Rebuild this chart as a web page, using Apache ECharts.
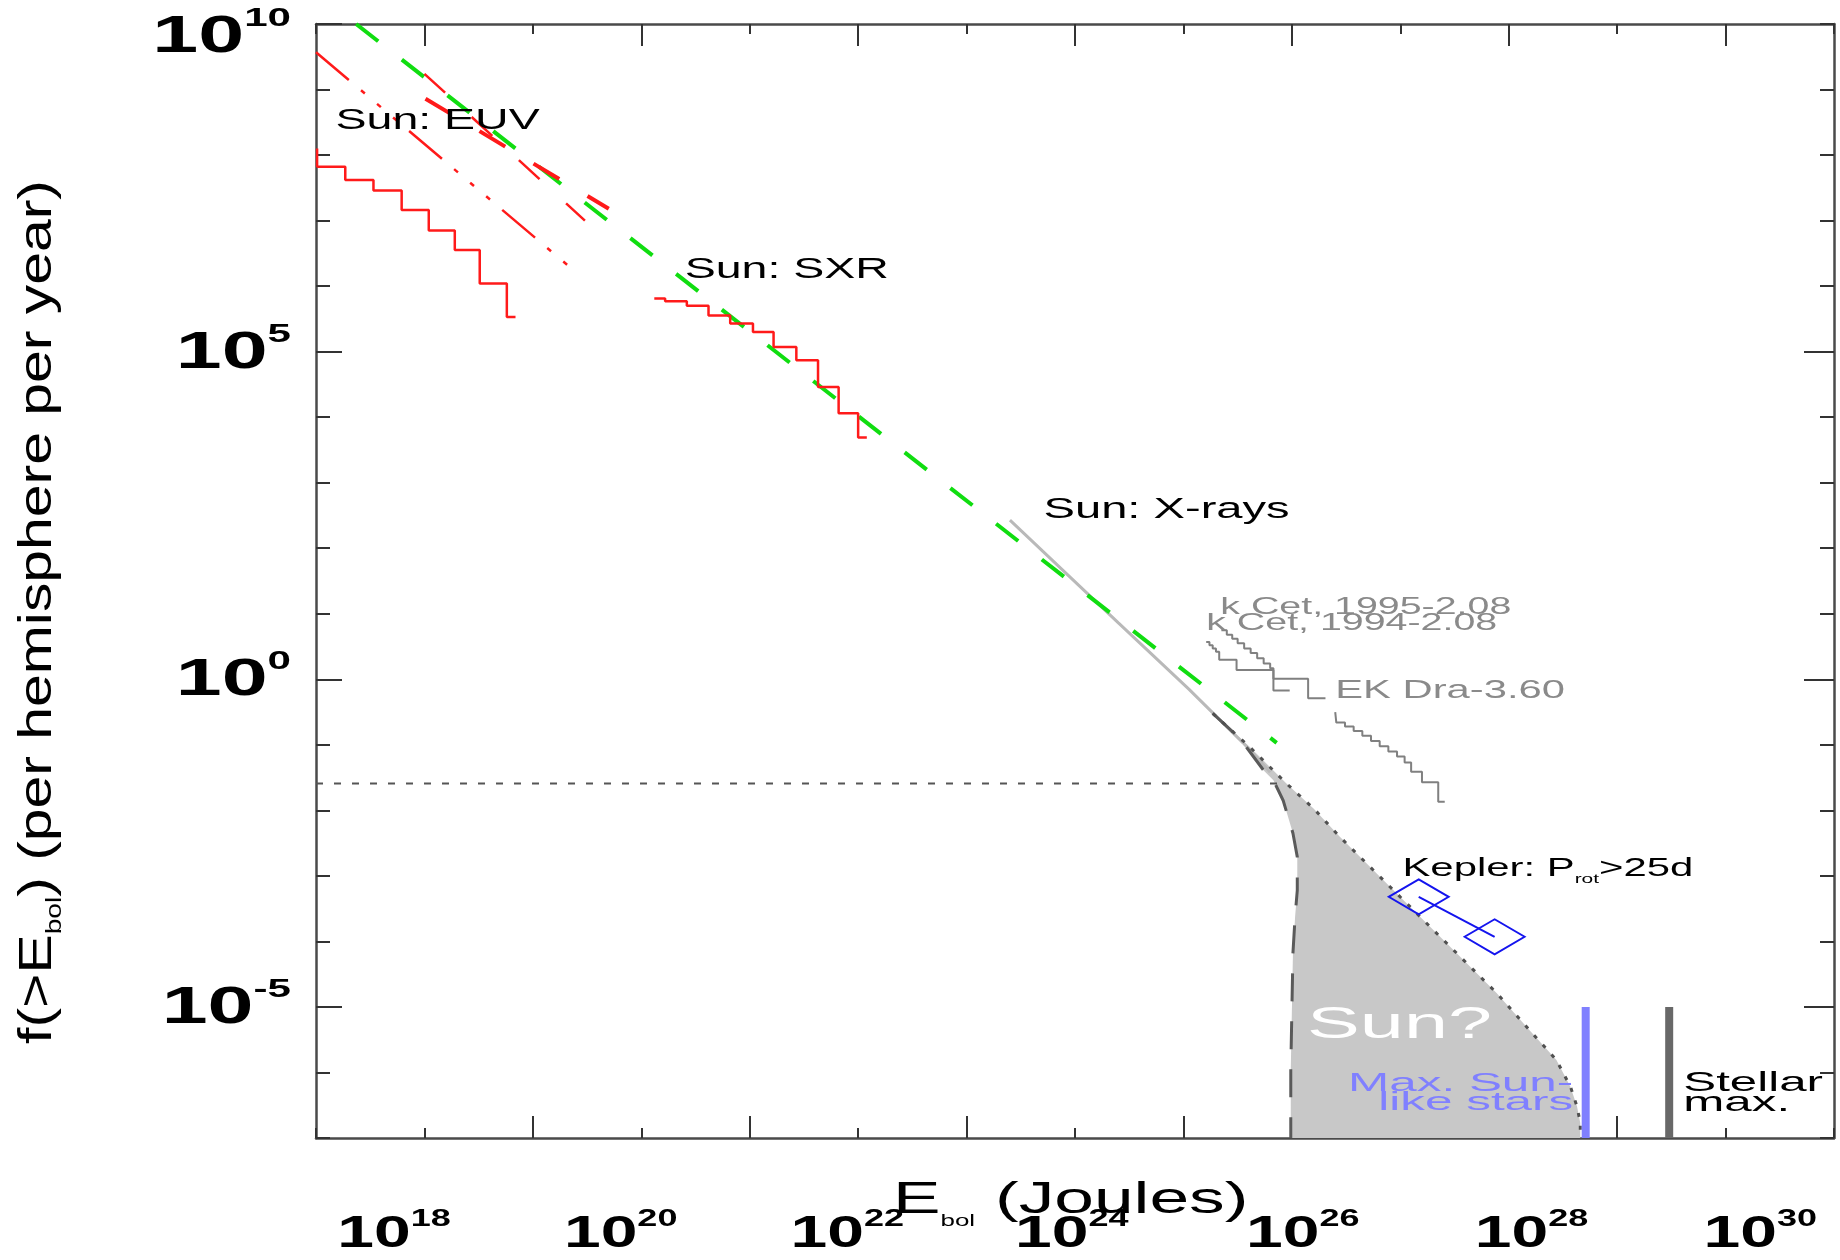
<!DOCTYPE html>
<html>
<head>
<meta charset="utf-8">
<title>Flare frequency vs bolometric energy</title>
<script src="https://cdn.jsdelivr.net/npm/echarts@6/dist/echarts.min.js"></script>
<style>
  html, body { margin: 0; padding: 0; background: #fff; }
  #chart { width: 1840px; height: 1260px; }
</style>
</head>
<body>
<div id="chart"></div>
<script>
// every value is a log10: E_bol in Joules, f(>E_bol) per hemisphere per year
const xTicks = [18, 20, 22, 24, 26, 28, 30];
const yTicks = [10, 5, 0, -5];

// Sun: EUV (cumulative histogram + power-law fits)
const euvStepE = [17.01, 17.01, 17.27, 17.53, 17.79, 18.04, 18.28, 18.51, 18.76, 18.84];
const euvStepF = [8.10, 7.82, 7.62, 7.46, 7.16, 6.85, 6.55, 6.04, 5.53, 5.53];
const euvFitAE = [17.0, 19.32];
const euvFitAF = [9.57, 6.32];
const euvFitBE = [18.0, 19.48];
const euvFitBF = [9.24, 7.0];
const euvFitCE = [18.01, 19.70];
const euvFitCF = [8.86, 7.18];

// Sun: SXR
const sxrStepE = [20.12, 20.22, 20.42, 20.62, 20.82, 21.03, 21.22, 21.43, 21.63, 21.82, 22.0, 22.08];
const sxrStepF = [5.81, 5.77, 5.70, 5.55, 5.43, 5.30, 5.07, 4.87, 4.46, 4.06, 3.69, 3.69];

// overall power law (green)
const fitE = [17.37, 25.86];
const fitF = [10.0, -0.97];

// Sun: X-rays
const xrayE = [23.40, 24.40, 25.05, 25.55, 25.80];
const xrayF = [2.43, 0.86, -0.15, -0.97, -1.42];

// stellar flare samples
const kCet95E = [25.35, 25.40, 25.45, 25.50, 25.56, 25.62, 25.68, 25.74, 25.80, 25.83, 26.15, 26.31];
const kCet95F = [0.75, 0.68, 0.62, 0.55, 0.47, 0.40, 0.32, 0.24, 0.17, 0.01, -0.29, -0.29];
const kCet94E = [25.21, 25.24, 25.27, 25.30, 25.33, 25.49, 25.83, 25.98];
const kCet94F = [0.57, 0.52, 0.47, 0.42, 0.30, 0.14, -0.17, -0.17];
const ekDraE = [26.40, 26.41, 26.49, 26.57, 26.65, 26.73, 26.81, 26.89, 26.97, 27.04, 27.10, 27.20, 27.35, 27.41];
const ekDraF = [-0.50, -0.66, -0.72, -0.79, -0.86, -0.94, -1.02, -1.10, -1.18, -1.27, -1.41, -1.57, -1.87, -1.87];

// Kepler: P_rot > 25 d
const keplerE = [27.17, 27.87];
const keplerF = [-3.32, -3.93];

// "Sun?" envelope
const sunLeftE = [25.27, 25.52, 25.74, 25.83, 25.92, 26.01, 26.05, 26.05, 26.03, 26.01, 25.99, 25.99];
const sunLeftF = [-0.52, -0.90, -1.39, -1.54, -1.85, -2.35, -2.71, -3.22, -3.62, -4.18, -5.96, -7.0];
const sunRightE = [25.27, 25.61, 25.95, 26.20, 26.44, 26.78, 27.15, 27.52, 27.89, 28.19, 28.44, 28.57, 28.63, 28.66, 28.66];
const sunRightF = [-0.52, -1.03, -1.59, -1.97, -2.40, -2.96, -3.57, -4.18, -4.79, -5.35, -5.81, -6.22, -6.52, -6.77, -7.0];
const sunLimitE = [17.0, 25.94];
const sunLimitF = [-1.59, -1.59];

// maximum energies
const sunLikeMaxE = [28.71, 28.71];
const stellarMaxE = [29.48, 29.48];
const maxBarF = [-5, -7];

const FONT = '"Liberation Sans", Arial, Helvetica, sans-serif';
const pairs = (xs, ys) => xs.map((x, i) => [x, ys[i]]);

function line(xs, ys, color, width, type, extra) {
  return Object.assign({
    type: "line",
    data: pairs(xs, ys),
    showSymbol: false,
    symbol: "none",
    silent: true,
    animation: false,
    z: 3,
    lineStyle: { color: color, width: width, type: type }
  }, extra || {});
}

function frameAxis(pos, min, max, len, custom, showLine) {
  const tick = { show: true, inside: true, length: len, lineStyle: { color: "#333", width: 2 } };
  if (custom) tick.customValues = custom;
  return {
    type: "value",
    position: pos,
    min: min,
    max: max,
    interval: 1,
    axisLine: { show: showLine, onZero: false, lineStyle: { color: "#4a4a4a", width: 2.5 } },
    axisTick: tick,
    axisLabel: { show: false },
    splitLine: { show: false }
  };
}

const option = {
  backgroundColor: "#fff",
  animation: false,
  grid: { left: 316, right: 6, top: 24, bottom: 122 },
  xAxis: [
    frameAxis("bottom", 17, 31, 10, null, true),
    frameAxis("bottom", 17, 31, 22, [19, 21, 23, 25, 27, 29], false),
    frameAxis("top", 17, 31, 10, null, true),
    frameAxis("top", 17, 31, 22, [18, 20, 22, 24, 26, 28, 30], false)
  ],
  yAxis: [
    frameAxis("left", -7, 10, 14, null, true),
    frameAxis("left", -7, 10, 26, [-5, 0, 5, 10], false),
    frameAxis("right", -7, 10, 14, null, true),
    frameAxis("right", -7, 10, 30, [-5, 0, 5], false)
  ],
  series: [
    {
      // shaded "Sun?" region
      type: "custom",
      silent: true,
      z: 1,
      data: [[sunLeftE[0], sunLeftF[0]]],
      renderItem: function (params, api) {
        const poly = pairs(sunLeftE, sunLeftF).concat(pairs(sunRightE, sunRightF).reverse());
        return {
          type: "polygon",
          shape: { points: poly.map(p => api.coord(p)) },
          style: { fill: "#c8c8c8" }
        };
      }
    },
    line(sunLimitE, sunLimitF, "#555", 2, [7, 11]),
    line(xrayE, xrayF, "#b9b9b9", 3, "solid"),
    line(sunLeftE, sunLeftF, "#5a5a5a", 3, [28, 20]),
    line(sunRightE, sunRightF, "#505050", 3, [4, 9]),
    line(fitE, fitF, "#10dd10", 4, [28, 30]),
    line(euvStepE, euvStepF, "#ff1a1a", 2.5, "solid", { step: "end" }),
    line(euvFitAE, euvFitAF, "#ff1a1a", 2.5, [43, 16, 5, 16, 5, 16, 5, 16]),
    line(euvFitBE, euvFitBF, "#ff1a1a", 2.5, [28, 36]),
    line(euvFitCE, euvFitCF, "#ff1a1a", 4, [30, 33]),
    line(sxrStepE, sxrStepF, "#ff1a1a", 2.5, "solid", { step: "end" }),
    line(kCet95E, kCet95F, "#808080", 2, "solid", { step: "end" }),
    line(kCet94E, kCet94F, "#808080", 2, "solid", { step: "end" }),
    line(ekDraE, ekDraF, "#808080", 2, "solid", { step: "end" }),
    line(keplerE, keplerF, "#1414ee", 2, "solid", {
      showSymbol: true,
      symbol: "diamond",
      symbolSize: [60, 35],
      itemStyle: { color: "rgba(0,0,0,0)", borderColor: "#1414ee", borderWidth: 2 }
    }),
    line(sunLikeMaxE, maxBarF, "#8080ff", 8, "solid"),
    line(stellarMaxE, maxBarF, "#686868", 8, "solid")
  ]
};

const chart = echarts.init(document.getElementById("chart"));
chart.setOption(option);

// ---- texts (stretched wide like the original figure) ----
const px = (x, y) => chart.convertToPixel({ xAxisIndex: 0, yAxisIndex: 0 }, [x, y]);

function tok(size, color, weight, lh, va) {
  return { fontSize: size, fontFamily: FONT, fontWeight: weight || "normal", fill: color,
    lineHeight: lh || size, verticalAlign: va || "bottom" };
}

function text(x, y, content, o) {
  return {
    type: "text",
    x: x,
    y: y,
    z: 100,
    silent: true,
    scaleX: o.scale || 1,
    rotation: o.rotation || 0,
    style: {
      text: content,
      fill: o.color || "#000",
      fontFamily: FONT,
      fontSize: o.size,
      fontWeight: o.weight || "normal",
      align: o.align || "left",
      verticalAlign: "middle",
      rich: o.rich
    }
  };
}

const g = [];
const leftPx = px(17, 0)[0];
const bottomPx = px(17, -7)[1];

// y tick labels 10^n
yTicks.forEach(v => {
  const y = Math.max(px(17, v)[1] + 2, 38);
  g.push(text(leftPx - 25, y, "{b|10}{s|" + v + "}", {
    align: "right", scale: 1.62,
    rich: { b: tok(51, "#000", "bold", 64, "middle"), s: tok(26, "#000", "bold", 26, "top") }
  }));
});

// x tick labels, printed a little off their ticks in the original
const xLabelAt = [17.72, 19.81, 21.90, 23.97, 26.10, 28.21, 30.32];
xTicks.forEach((v, i) => {
  g.push(text(px(xLabelAt[i], 0)[0], bottomPx + 97, "{b|10}{s|" + v + "}", {
    align: "center", scale: 1.5,
    rich: { b: tok(44, "#000", "bold", 56, "middle"), s: tok(24, "#000", "bold", 24, "top") }
  }));
});

// axis titles
g.push(text(893, bottomPx + 63, "{a|E}{s|bol}{a| (Joules)}", {
  scale: 1.62,
  rich: { a: tok(44, "#000", "normal", 58, "middle"), s: tok(16, "#000", "normal", 16, "bottom") }
}));
g.push(text(38, 612, "{a|f(>E}{s|bol}{a|) (per hemisphere per year)}", {
  align: "center", scale: 1.28, rotation: Math.PI / 2,
  rich: { a: tok(46, "#000", "normal", 56, "middle"), s: tok(22, "#000", "normal", 22, "bottom") }
}));

// annotations, anchored in data coordinates
const notes = [
  { t: "Sun: EUV", at: [17.18, 8.52], size: 30, scale: 1.55 },
  { t: "Sun: SXR", at: [20.40, 6.25], size: 30, scale: 1.55 },
  { t: "Sun: X-rays", at: [23.71, 2.58], size: 30, scale: 1.57 },
  { t: "k Cet, 1995-2.08", at: [25.34, 1.10], size: 24, scale: 1.64, color: "#8a8a8a" },
  { t: "k Cet, 1994-2.08", at: [25.21, 0.86], size: 24, scale: 1.64, color: "#8a8a8a" },
  { t: "EK Dra-3.60", at: [26.40, -0.18], size: 25, scale: 1.67, color: "#8a8a8a" },
  { t: "Sun?", at: [26.14, -5.29], size: 44, scale: 1.8, color: "#fff" },
  { t: "Max. Sun-", at: [28.595, -6.18], size: 26, scale: 1.9, color: "#8080ff", align: "right" },
  { t: "like stars", at: [28.595, -6.47], size: 26, scale: 1.9, color: "#8080ff", align: "right" },
  { t: "Stellar", at: [29.61, -6.17], size: 28, scale: 1.76 },
  { t: "max.", at: [29.61, -6.47], size: 28, scale: 1.76 }
];
notes.forEach(n => {
  const p = px(n.at[0], n.at[1]);
  g.push(text(p[0], p[1], n.t, n));
});

const kp = px(27.02, -2.89);
g.push(text(kp[0], kp[1], "{a|Kepler: P}{s|rot}{a|>25d}", {
  scale: 1.61,
  rich: { a: tok(26, "#000", "normal", 34, "middle"), s: tok(13, "#000", "normal", 13, "bottom") }
}));

chart.setOption({ graphic: g });
</script>
</body>
</html>
